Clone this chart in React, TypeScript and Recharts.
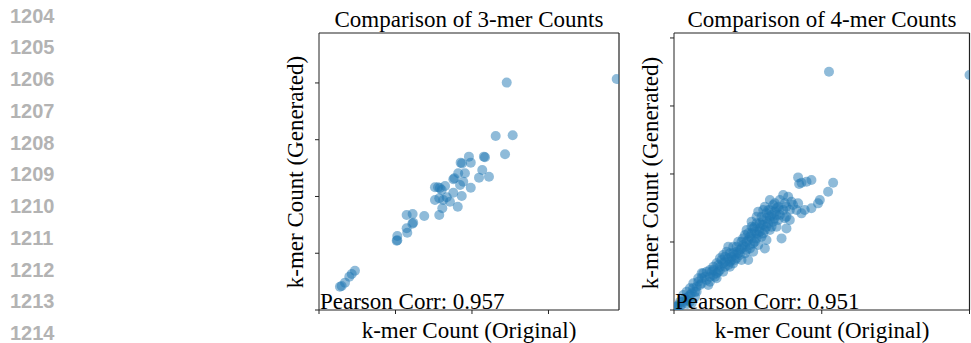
import React from 'react';
import { ScatterChart, Scatter, XAxis, YAxis, ReferenceLine } from 'recharts';

// 3-mer counts (original vs generated)
const orig3 = [1946, 1227, 1155, 1266, 1216, 1078, 1085, 980, 992, 926, 935, 1067, 1046, 1111, 954, 910, 878, 885, 943, 824, 778, 790, 758, 802, 992, 922, 878, 933, 835, 786, 758, 812, 856, 806, 907, 786, 688, 573, 612, 616, 610, 573, 577, 512, 508, 512, 235, 214, 198, 170, 148, 137];
const gen3 = [2035, 2003, 1533, 1539, 1372, 1351, 1345, 1351, 1298, 1298, 1290, 1233, 1166, 1174, 1204, 1204, 1151, 1160, 1130, 1092, 1081, 1075, 1081, 1057, 1077, 1101, 1033, 1004, 993, 984, 969, 969, 954, 896, 910, 837, 828, 837, 846, 769, 760, 720, 681, 652, 611, 615, 346, 317, 293, 241, 211, 205];

// 4-mer counts (original vs generated)
const orig4 = [
  1049, 2000, 840, 863, 897, 930, 847, 1077, 1043, 987, 930, 975, 739, 773, 716, 795, 840, 829, 863, 885,
  649, 671, 615, 694, 739, 761, 716, 570, 592, 626, 649, 671, 694, 761, 728, 615, 525, 559, 536, 581,
  615, 649, 491, 480, 514, 559, 592, 626, 536, 570, 457, 424, 435, 491, 536, 502, 457, 424, 390, 356,
  333, 322, 299, 345, 378, 401, 311, 288, 333, 277, 288, 198, 187, 164, 232, 153, 130, 120, 97, 74,
  63, 52, 108, 142, 243, 266, 367, 401, 446, 468, 502, 525, 547, 581, 603, 626, 660, 682, 705, 649,
  603, 559, 514, 480, 412, 378, 333, 255, 221, 176, 142, 86, 20, 40, 90, 120,
  108, 153, 187, 209, 243, 266, 300, 311, 345, 367, 390, 412, 423, 446, 457, 480, 491, 514, 525, 547,
  547, 570, 581, 592, 604, 626, 637, 649, 660, 682, 694, 705, 716, 750, 761, 784, 806, 750, 784, 682,
  637, 604, 559, 525, 502, 468, 435, 401, 367, 378, 345, 311, 288, 266, 243, 221, 187, 164, 131, 108,
  86, 63, 41, 29, 18,
];
const gen4 = [
  3503, 3455, 1950, 1872, 1887, 1911, 1852, 1872, 1739, 1617, 1495, 1568, 1691, 1666, 1617, 1592, 1568, 1470, 1421, 1470,
  1617, 1544, 1519, 1495, 1470, 1372, 1397, 1446, 1372, 1421, 1323, 1299, 1225, 1200, 1053, 906, 1299, 1274, 1200, 1200,
  1176, 1176, 1176, 1103, 1078, 1053, 1078, 1029, 980, 956, 1004, 931, 833, 882, 857, 735, 735, 760, 735, 857,
  809, 735, 662, 637, 637, 686, 588, 539, 563, 490, 466, 539, 466, 416, 368, 343, 319, 245, 196, 172,
  122, 74, 122, 196, 490, 588, 760, 833, 882, 956, 1029, 1127, 1151, 1274, 1323, 1348, 1397, 1446, 1519, 1470,
  1250, 1127, 956, 833, 809, 710, 686, 563, 441, 368, 269, 147, 50, 60, 90, 100,
  221, 270, 392, 490, 416, 515, 563, 637, 710, 662, 784, 735, 857, 809, 906, 931, 1004, 906, 1053, 1004,
  1225, 1103, 1151, 1250, 1127, 1225, 1274, 1372, 1225, 1348, 1397, 1323, 1470, 1568, 1519, 1470, 1544, 1348, 1323, 1568,
  1470, 1470, 1372, 1225, 1127, 1053, 1004, 931, 931, 833, 784, 760, 686, 637, 588, 563, 539, 466, 392, 319,
  270, 221, 122, 74, 49,
];

const xTicks3 = [0, 500, 1000, 1500];
const yTicks3 = [0, 500, 1000, 1500, 2000];
const xTicks4 = [0, 1000, 2000];
const yTicks4 = [0, 1000, 2000, 3000, 4000];

const lineNumbers = ['1204', '1205', '1206', '1207', '1208', '1209', '1210', '1211', '1212', '1213', '1214'];

const data3 = orig3.map((x, i) => ({ x, y: gen3[i] }));
const data4 = orig4.map((x, i) => ({ x, y: gen4[i] }));

const W = 971;
const H = 343;
const AXIS = 10; // room for the bottom / left axis (ticks only, no labels)

// plot boxes of the two subplots
const box3 = { left: 319, top: 33, right: 619, bottom: 310 };
const box4 = { left: 674, top: 33, right: 969.5, bottom: 310 };

const serif = '"Liberation Serif", "Times New Roman", serif';
const dot = '#1f77b4';
const spine = '#222';

const Dot = (props: any) => <circle cx={props.cx} cy={props.cy} r={5} fill={dot} fillOpacity={0.5} />;
const NoLabel = () => <g />;

type Box = { left: number; top: number; right: number; bottom: number };

interface PanelProps {
  data: { x: number; y: number }[];
  xMax: number;
  yMax: number;
  xTicks: number[];
  yTicks: number[];
  box: Box;
}

const Panel: React.FC<PanelProps> = ({ data, xMax, yMax, xTicks, yTicks, box }) => (
  <div style={{ position: 'absolute', left: 0, top: 0 }}>
    <ScatterChart
      width={W}
      height={H}
      margin={{ top: box.top, left: box.left - AXIS, right: W - box.right, bottom: H - box.bottom - AXIS }}
    >
      <XAxis
        type="number"
        dataKey="x"
        domain={[0, xMax]}
        ticks={xTicks}
        allowDataOverflow
        height={AXIS}
        tick={NoLabel}
        tickSize={4}
        axisLine={{ stroke: spine }}
        tickLine={{ stroke: spine }}
      />
      <YAxis
        type="number"
        dataKey="y"
        domain={[0, yMax]}
        ticks={yTicks}
        allowDataOverflow
        width={AXIS}
        tick={NoLabel}
        tickSize={4}
        axisLine={{ stroke: spine }}
        tickLine={{ stroke: spine }}
      />
      <Scatter data={data} shape={Dot} isAnimationActive={false} />
      {/* top and right spines */}
      <ReferenceLine y={yMax} stroke={spine} strokeWidth={1.2} ifOverflow="visible" />
      <ReferenceLine x={xMax} stroke={spine} strokeWidth={1.2} ifOverflow="visible" />
    </ScatterChart>
  </div>
);

const App: React.FC = () => {
  return (
    <div style={{ position: 'absolute', left: 0, top: 0, width: W, height: H, background: '#fff', overflow: 'hidden' }}>
      <Panel data={data3} xMax={1961} yMax={2440} xTicks={xTicks3} yTicks={yTicks3} box={box3} />
      <Panel data={data4} xMax={2000} yMax={4073} xTicks={xTicks4} yTicks={yTicks4} box={box4} />
      <svg width={W} height={H} style={{ position: 'absolute', left: 0, top: 0 }}>
        {lineNumbers.map((n, i) => (
          <text key={n} x={10} y={22.7 + i * 31.73} fontFamily='"Liberation Sans", Arial, sans-serif' fontWeight="bold" fontSize={20} fill="#b3b3b3">
            {n}
          </text>
        ))}
        <g fontFamily={serif} fontSize={23} fill="#000">
          <text x={469} y={27} textAnchor="middle">Comparison of 3-mer Counts</text>
          <text x={469} y={338} textAnchor="middle">k-mer Count (Original)</text>
          <text x={303} y={172} textAnchor="middle" transform="rotate(-90 303 172)">k-mer Count (Generated)</text>
          <text x={320} y={309}>Pearson Corr: 0.957</text>

          <text x={822} y={27} textAnchor="middle">Comparison of 4-mer Counts</text>
          <text x={822} y={338} textAnchor="middle">k-mer Count (Original)</text>
          <text x={658} y={173} textAnchor="middle" transform="rotate(-90 658 173)">k-mer Count (Generated)</text>
          <text x={675} y={309}>Pearson Corr: 0.951</text>
        </g>
      </svg>
    </div>
  );
};

export default App;
